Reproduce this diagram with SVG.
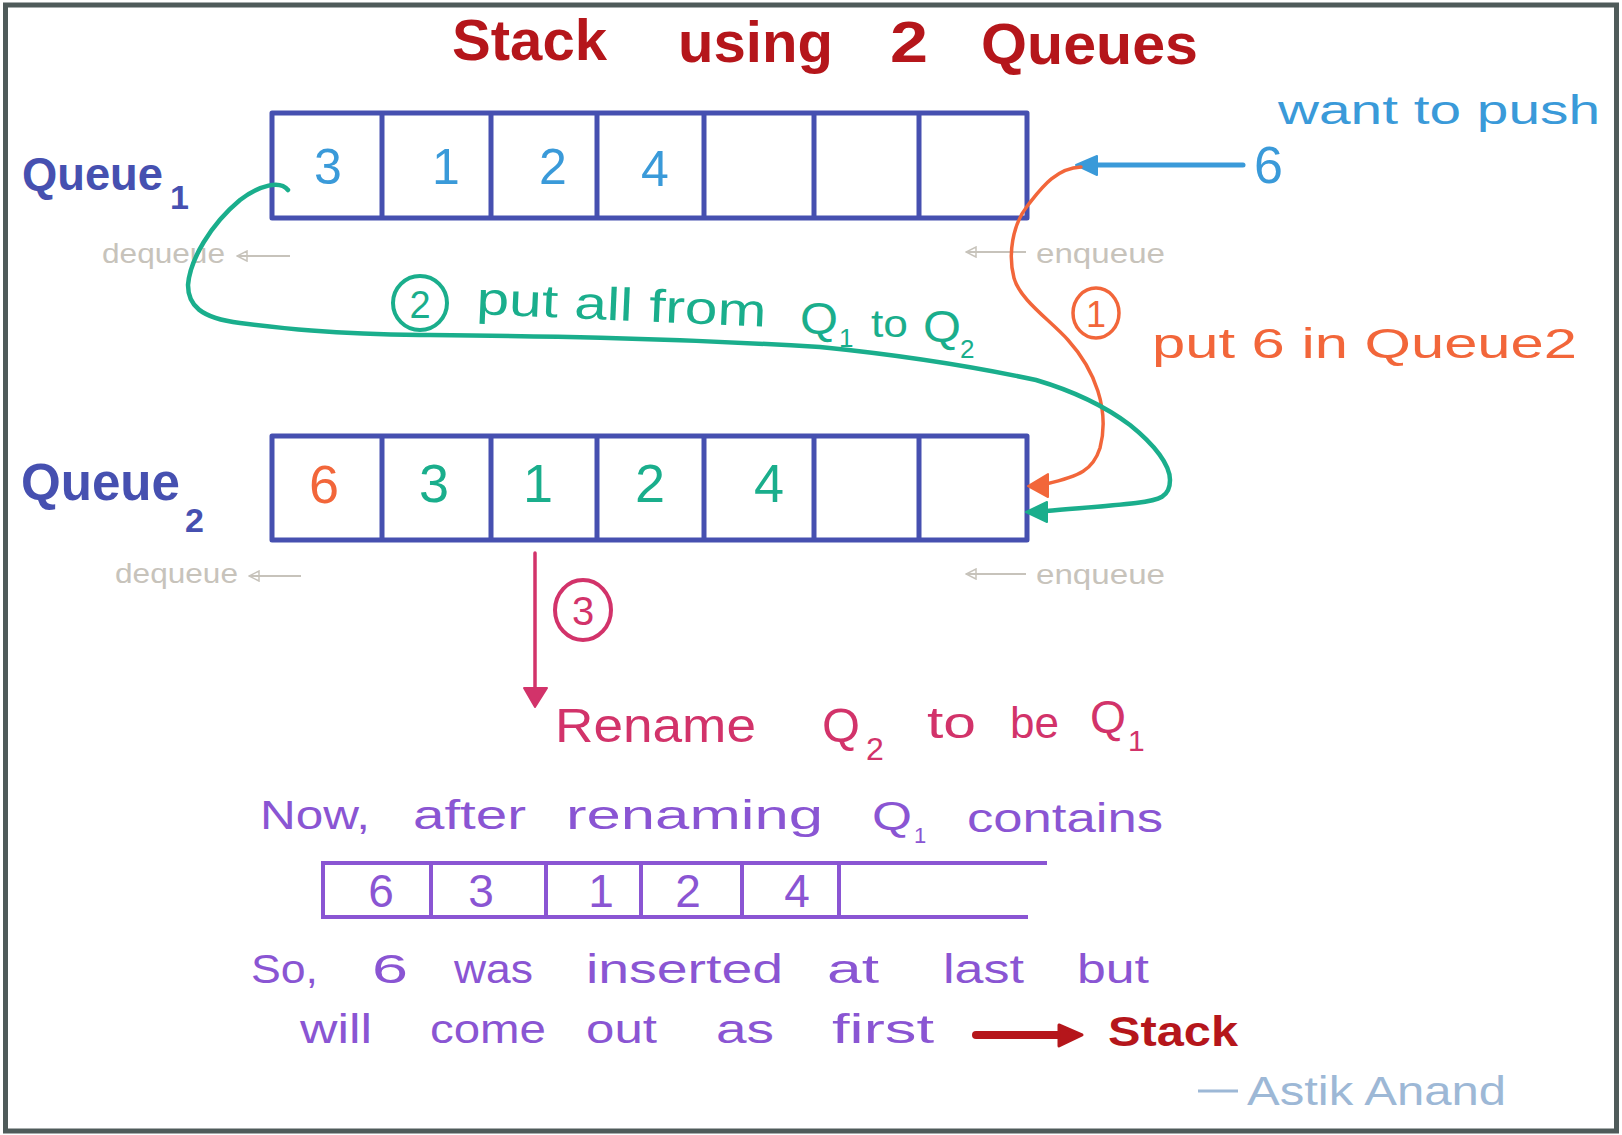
<svg xmlns="http://www.w3.org/2000/svg" width="1622" height="1135" viewBox="0 0 1622 1135">
<style>
text{font-family:"Liberation Sans","Open Sans",sans-serif}
.title{fill:#b5161b;font-size:58px;font-weight:bold}
.box{fill:none;stroke:#4650b0;stroke-width:5;stroke-linejoin:round}
.qlbl{fill:#4650b0;font-size:52px;font-weight:bold}
.qsub{fill:#4650b0;font-size:34px;font-weight:bold}
.blue{fill:#3a9ad9}
.teal{fill:#1aae8c}
.orange{fill:#f2663a}
.crim{fill:#d2336a}
.purp{fill:#8a55d3}
.dig{font-size:50px;text-anchor:middle}
.gray{fill:#c7c3bb;font-size:28px}
.garrow{stroke:#c7c3bb;stroke-width:2;fill:none;marker-end:url(#ga)}
.pbox{fill:none;stroke:#8a55d3;stroke-width:4}
.pt{font-size:40px}
</style>
<defs>
<marker id="ga" viewBox="0 0 12 12" refX="11" refY="6" markerWidth="12" markerHeight="12" markerUnits="userSpaceOnUse" orient="auto">
<path d="M1,1 L11,6 L1,11 Z" fill="none" stroke="#c7c3bb" stroke-width="1.5"/>
</marker>
</defs>
<rect x="0" y="0" width="1622" height="1135" fill="#ffffff"/>
<rect x="5.5" y="5" width="1611" height="1126" fill="none" stroke="#4f5b5a" stroke-width="5"/>

<g id="title">
<text class="title" x="452" y="60" textLength="155" lengthAdjust="spacingAndGlyphs">Stack</text>
<text class="title" x="678" y="62" textLength="155" lengthAdjust="spacingAndGlyphs">using</text>
<text class="title" x="890" y="62" textLength="38" lengthAdjust="spacingAndGlyphs">2</text>
<text class="title" x="981" y="64" textLength="217" lengthAdjust="spacingAndGlyphs">Queues</text>
</g>

<g id="queue1">
<path class="box" d="M272,113 H1027 V218 H272 Z M382,113 V218 M491,113 V218 M597,113 V218 M704,113 V218 M814,113 V218 M919,113 V218"/>
<text class="dig blue" x="328" y="184">3</text>
<text class="dig blue" x="446" y="184">1</text>
<text class="dig blue" x="553" y="184">2</text>
<text class="dig blue" x="655" y="186">4</text>
</g>
<g id="queue1-label">
<text class="qlbl" x="22" y="190" style="font-size:46px" textLength="141" lengthAdjust="spacingAndGlyphs">Queue</text>
<text class="qsub" x="170" y="209">1</text>
</g>
<g id="queue1-dequeue">
<text class="gray" x="102" y="263" textLength="123" lengthAdjust="spacingAndGlyphs">dequeue</text>
<path class="garrow" d="M290,256 H237"/>
</g>
<g id="queue1-enqueue">
<path class="garrow" d="M1026,252 H966"/>
<text class="gray" x="1036" y="263" textLength="129" lengthAdjust="spacingAndGlyphs">enqueue</text>
</g>

<g id="queue2">
<path class="box" d="M272,436 H1027 V540 H272 Z M382,436 V540 M491,436 V540 M597,436 V540 M704,436 V540 M814,436 V540 M919,436 V540"/>
<text class="dig orange" x="324" y="503" style="font-size:54px">6</text>
<text class="dig teal" x="434" y="502" style="font-size:54px">3</text>
<text class="dig teal" x="538" y="502" style="font-size:54px">1</text>
<text class="dig teal" x="650" y="502" style="font-size:54px">2</text>
<text class="dig teal" x="769" y="502" style="font-size:54px">4</text>
</g>
<g id="queue2-label">
<text class="qlbl" x="21" y="500" style="font-size:51px" textLength="159" lengthAdjust="spacingAndGlyphs">Queue</text>
<text class="qsub" x="185" y="532">2</text>
</g>
<g id="queue2-dequeue">
<text class="gray" x="115" y="583" textLength="123" lengthAdjust="spacingAndGlyphs">dequeue</text>
<path class="garrow" d="M301,576 H249"/>
</g>
<g id="queue2-enqueue">
<path class="garrow" d="M1026,574 H966"/>
<text class="gray" x="1036" y="584" textLength="129" lengthAdjust="spacingAndGlyphs">enqueue</text>
</g>

<g id="push">
<text class="blue" x="1278" y="124" style="font-size:40px" textLength="322" lengthAdjust="spacingAndGlyphs">want to push</text>
<text class="blue" x="1254" y="183" style="font-size:52px">6</text>
</g>

<g id="step1">
<ellipse cx="1096" cy="313" rx="23" ry="25" fill="none" stroke="#f2663a" stroke-width="3.5"/>
<text class="orange" x="1096" y="327" text-anchor="middle" style="font-size:36px">1</text>
<text class="orange" x="1152" y="358" style="font-size:42px" textLength="425" lengthAdjust="spacingAndGlyphs">put 6 in Queue2</text>
</g>

<g id="step2">
<circle cx="420" cy="303" r="27" fill="none" stroke="#1aae8c" stroke-width="4"/>
<text class="teal" x="420" y="318" text-anchor="middle" style="font-size:38px">2</text>
<text class="teal" x="476" y="314" style="font-size:46px" textLength="290" lengthAdjust="spacingAndGlyphs" transform="rotate(2.5 476 314)">put all from</text>
<text class="teal" x="800" y="334" style="font-size:44px" textLength="38" lengthAdjust="spacingAndGlyphs">Q</text>
<text class="teal" x="839" y="347" style="font-size:26px">1</text>
<text class="teal" x="871" y="337" style="font-size:38px" textLength="37" lengthAdjust="spacingAndGlyphs">to</text>
<text class="teal" x="923" y="342" style="font-size:44px" textLength="38" lengthAdjust="spacingAndGlyphs">Q</text>
<text class="teal" x="960" y="358" style="font-size:26px">2</text>
</g>

<g id="step3">
<ellipse cx="583" cy="610" rx="28" ry="30" fill="none" stroke="#d2336a" stroke-width="4"/>
<text class="crim" x="583" y="625" text-anchor="middle" style="font-size:40px">3</text>
<text class="crim" x="555" y="742" style="font-size:48px" textLength="201" lengthAdjust="spacingAndGlyphs">Rename</text>
<text class="crim" x="822" y="742" style="font-size:48px" textLength="38" lengthAdjust="spacingAndGlyphs">Q</text>
<text class="crim" x="866" y="760" style="font-size:32px">2</text>
<text class="crim" x="927" y="738" style="font-size:44px" textLength="49" lengthAdjust="spacingAndGlyphs">to</text>
<text class="crim" x="1010" y="738" style="font-size:44px" textLength="49" lengthAdjust="spacingAndGlyphs">be</text>
<text class="crim" x="1090" y="733" style="font-size:46px" textLength="36" lengthAdjust="spacingAndGlyphs">Q</text>
<text class="crim" x="1128" y="751" style="font-size:30px">1</text>
</g>

<g id="result">
<text class="purp pt" x="260" y="829" textLength="110" lengthAdjust="spacingAndGlyphs">Now,</text>
<text class="purp pt" x="413" y="829" textLength="113" lengthAdjust="spacingAndGlyphs">after</text>
<text class="purp pt" x="566" y="829" textLength="257" lengthAdjust="spacingAndGlyphs">renaming</text>
<text class="purp pt" x="872" y="830" textLength="40" lengthAdjust="spacingAndGlyphs">Q</text>
<text class="purp" x="914" y="843" style="font-size:22px">1</text>
<text class="purp pt" x="967" y="832" textLength="196" lengthAdjust="spacingAndGlyphs">contains</text>
</g>

<g id="queue-result">
<path class="pbox" d="M1047,863 H323 V917 H1028 M431,863 V917 M546,863 V917 M641,863 V917 M742,863 V917 M839,863 V917"/>
<text class="purp dig" x="381" y="907" style="font-size:46px">6</text>
<text class="purp dig" x="481" y="907" style="font-size:46px">3</text>
<text class="purp dig" x="601" y="907" style="font-size:46px">1</text>
<text class="purp dig" x="688" y="907" style="font-size:46px">2</text>
<text class="purp dig" x="797" y="907" style="font-size:46px">4</text>
</g>

<g id="conclusion">
<text class="purp pt" x="251" y="983" textLength="67" lengthAdjust="spacingAndGlyphs">So,</text>
<text class="purp pt" x="372" y="983" textLength="36" lengthAdjust="spacingAndGlyphs">6</text>
<text class="purp pt" x="454" y="983" textLength="79" lengthAdjust="spacingAndGlyphs">was</text>
<text class="purp pt" x="586" y="983" textLength="197" lengthAdjust="spacingAndGlyphs">inserted</text>
<text class="purp pt" x="827" y="983" textLength="52" lengthAdjust="spacingAndGlyphs">at</text>
<text class="purp pt" x="943" y="983" textLength="81" lengthAdjust="spacingAndGlyphs">last</text>
<text class="purp pt" x="1077" y="983" textLength="72" lengthAdjust="spacingAndGlyphs">but</text>
<text class="purp pt" x="300" y="1043" textLength="72" lengthAdjust="spacingAndGlyphs">will</text>
<text class="purp pt" x="430" y="1043" textLength="116" lengthAdjust="spacingAndGlyphs">come</text>
<text class="purp pt" x="586" y="1043" textLength="71" lengthAdjust="spacingAndGlyphs">out</text>
<text class="purp pt" x="716" y="1043" textLength="58" lengthAdjust="spacingAndGlyphs">as</text>
<text class="purp pt" x="832" y="1043" textLength="102" lengthAdjust="spacingAndGlyphs">first</text>
</g>
<g id="stack-label">
<text x="1108" y="1046" style="fill:#b5161b;font-size:42px;font-weight:bold" textLength="130" lengthAdjust="spacingAndGlyphs">Stack</text>
</g>
<g id="signature">
<path d="M1198,1091 H1238" stroke="#9db8d6" stroke-width="3"/>
<text x="1247" y="1105" style="fill:#9db8d6;font-size:40px" textLength="259" lengthAdjust="spacingAndGlyphs">Astik Anand</text>
</g>

<g id="connectors" fill="none" stroke-linecap="round" stroke-linejoin="round">
<path d="M1243,165 H1094" stroke="#3a9ad9" stroke-width="5"/>
<path d="M1076,165 L1097,156 L1097,175 Z" fill="#3a9ad9" stroke="#3a9ad9" stroke-width="2"/>
<path d="M1081,167 C1055,168 1040,190 1028,205 C1012,225 1008,255 1014,278 C1020,300 1050,320 1068,340 C1095,370 1110,410 1100,448 C1093,470 1080,476 1046,484" stroke="#f2663a" stroke-width="3.5"/>
<path d="M1028,486 L1048,474 L1048,497 Z" fill="#f2663a" stroke="#f2663a" stroke-width="2"/>
<path d="M288,190 C280,180 260,185 240,200 C210,225 190,260 188,285 C188,305 200,318 240,323 C280,328 330,334 420,335 C520,336 650,337 820,347 C900,355 980,368 1036,380 C1080,393 1110,410 1130,425 C1155,445 1170,465 1170,480 C1170,497 1160,500 1136,503 C1110,506 1080,508 1046,511" stroke="#1aae8c" stroke-width="4.5"/>
<path d="M1026,512 L1047,502 L1047,522 Z" fill="#1aae8c" stroke="#1aae8c" stroke-width="2"/>
<path d="M535,553 V692" stroke="#d2336a" stroke-width="3.5"/>
<path d="M535,707 L524,688 L547,688 Z" fill="#d2336a" stroke="#d2336a" stroke-width="2"/>
<path d="M976,1035 H1062" stroke="#b5161b" stroke-width="8"/>
<path d="M1082,1035 L1059,1025 L1059,1046 Z" fill="#b5161b" stroke="#b5161b" stroke-width="3"/>
</g>
</svg>
